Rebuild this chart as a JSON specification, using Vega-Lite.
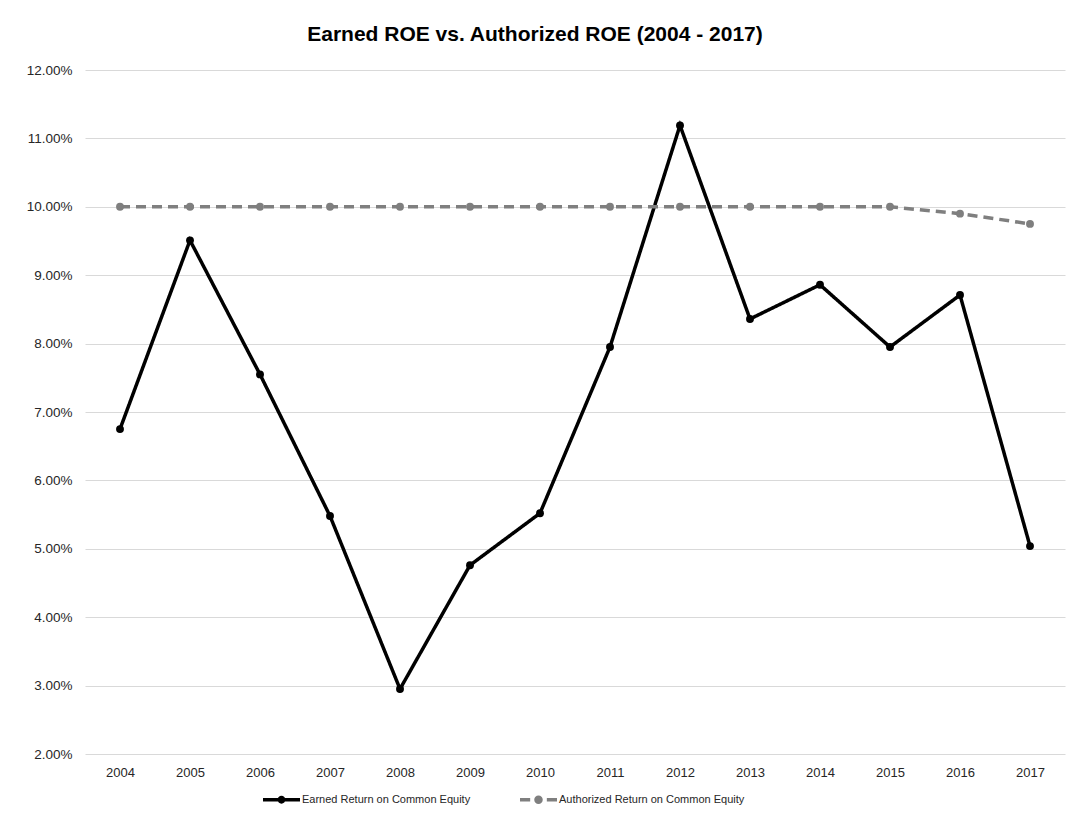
{
  "$schema": "https://vega.github.io/schema/vega-lite/v6.json",
  "width": 980,
  "height": 684,
  "autosize": {"type": "none"},
  "padding": {"left": 85, "top": 70, "right": 5, "bottom": 65},
  "background": "white",
  "title": {
    "text": "Earned ROE vs. Authorized ROE (2004 - 2017)",
    "font": "Liberation Sans",
    "fontSize": 21,
    "fontWeight": "bold",
    "color": "#000000",
    "anchor": "middle",
    "dx": -40,
    "offset": 18
  },
  "data": {
    "values": [
      {"year": "2004", "series": "Earned Return on Common Equity", "roe": 0.0675},
      {"year": "2005", "series": "Earned Return on Common Equity", "roe": 0.0951},
      {"year": "2006", "series": "Earned Return on Common Equity", "roe": 0.0755},
      {"year": "2007", "series": "Earned Return on Common Equity", "roe": 0.0548},
      {"year": "2008", "series": "Earned Return on Common Equity", "roe": 0.0295},
      {"year": "2009", "series": "Earned Return on Common Equity", "roe": 0.0476},
      {"year": "2010", "series": "Earned Return on Common Equity", "roe": 0.0552},
      {"year": "2011", "series": "Earned Return on Common Equity", "roe": 0.0795},
      {"year": "2012", "series": "Earned Return on Common Equity", "roe": 0.1119},
      {"year": "2013", "series": "Earned Return on Common Equity", "roe": 0.0836},
      {"year": "2014", "series": "Earned Return on Common Equity", "roe": 0.0886},
      {"year": "2015", "series": "Earned Return on Common Equity", "roe": 0.0795},
      {"year": "2016", "series": "Earned Return on Common Equity", "roe": 0.0871},
      {"year": "2017", "series": "Earned Return on Common Equity", "roe": 0.0504},
      {"year": "2004", "series": "Authorized Return on Common Equity", "roe": 0.1000},
      {"year": "2005", "series": "Authorized Return on Common Equity", "roe": 0.1000},
      {"year": "2006", "series": "Authorized Return on Common Equity", "roe": 0.1000},
      {"year": "2007", "series": "Authorized Return on Common Equity", "roe": 0.1000},
      {"year": "2008", "series": "Authorized Return on Common Equity", "roe": 0.1000},
      {"year": "2009", "series": "Authorized Return on Common Equity", "roe": 0.1000},
      {"year": "2010", "series": "Authorized Return on Common Equity", "roe": 0.1000},
      {"year": "2011", "series": "Authorized Return on Common Equity", "roe": 0.1000},
      {"year": "2012", "series": "Authorized Return on Common Equity", "roe": 0.1000},
      {"year": "2013", "series": "Authorized Return on Common Equity", "roe": 0.1000},
      {"year": "2014", "series": "Authorized Return on Common Equity", "roe": 0.1000},
      {"year": "2015", "series": "Authorized Return on Common Equity", "roe": 0.1000},
      {"year": "2016", "series": "Authorized Return on Common Equity", "roe": 0.0990},
      {"year": "2017", "series": "Authorized Return on Common Equity", "roe": 0.0975}
    ]
  },
  "encoding": {
    "x": {
      "field": "year",
      "type": "ordinal",
      "sort": null,
      "scale": {"type": "point", "padding": 0.5},
      "axis": {
        "title": null,
        "labelAngle": 0,
        "domain": false,
        "ticks": false,
        "grid": false,
        "labelFont": "Liberation Sans",
        "labelFontSize": 13,
        "labelColor": "#262626",
        "labelPadding": 12
      }
    },
    "y": {
      "field": "roe",
      "type": "quantitative",
      "scale": {"domain": [0.02, 0.12], "nice": false, "zero": false},
      "axis": {
        "title": null,
        "format": ".2%",
        "values": [0.02, 0.03, 0.04, 0.05, 0.06, 0.07, 0.08, 0.09, 0.10, 0.11, 0.12],
        "domain": false,
        "ticks": false,
        "grid": true,
        "gridColor": "#d9d9d9",
        "gridWidth": 1.2,
        "labelFont": "Liberation Sans",
        "labelFontSize": 13.5,
        "labelColor": "#262626",
        "labelPadding": 13
      }
    },
    "color": {
      "field": "series",
      "type": "nominal",
      "sort": ["Earned Return on Common Equity", "Authorized Return on Common Equity"],
      "scale": {
        "domain": ["Earned Return on Common Equity", "Authorized Return on Common Equity"],
        "range": ["#000000", "#7f7f7f"]
      },
      "legend": {
        "title": null,
        "orient": "none",
        "legendX": 178,
        "legendY": 711,
        "direction": "horizontal",
        "labelFont": "Liberation Sans",
        "labelFontSize": 11,
        "labelColor": "#262626",
        "labelLimit": 400,
        "labelOffset": 2,
        "columnPadding": 49,
        "symbolSize": 1369,
        "symbolStrokeWidth": 0,
        "encode": {
          "symbols": {
            "update": {
              "shape": {"signal": "datum.value === 'Earned Return on Common Equity' ? 'M-1,-0.09L1,-0.09L1,0.09L-1,0.09Z M-0.21,0A0.21,0.21,0,1,1,0.21,0A0.21,0.21,0,1,1,-0.21,0Z' : 'M-1,-0.09L-0.45,-0.09L-0.45,0.09L-1,0.09Z M0.45,-0.09L1,-0.09L1,0.09L0.45,0.09Z M-0.23,0A0.23,0.23,0,1,1,0.23,0A0.23,0.23,0,1,1,-0.23,0Z'"},
              "fill": {"signal": "datum.value === 'Earned Return on Common Equity' ? '#000000' : '#7f7f7f'"},
              "fillOpacity": {"value": 1},
              "strokeWidth": {"value": 0}
            }
          }
        }
      }
    }
  },
  "layer": [
    {
      "mark": {"type": "line", "strokeWidth": 3.5},
      "encoding": {
        "strokeDash": {
          "field": "series",
          "type": "nominal",
          "scale": {
            "domain": ["Earned Return on Common Equity", "Authorized Return on Common Equity"],
            "range": [[1, 0], [10, 6]]
          },
          "legend": null
        }
      }
    },
    {
      "mark": {"type": "point", "filled": true, "opacity": 1, "size": 62},
      "encoding": {}
    }
  ],
  "config": {
    "view": {"stroke": null}
  }
}
